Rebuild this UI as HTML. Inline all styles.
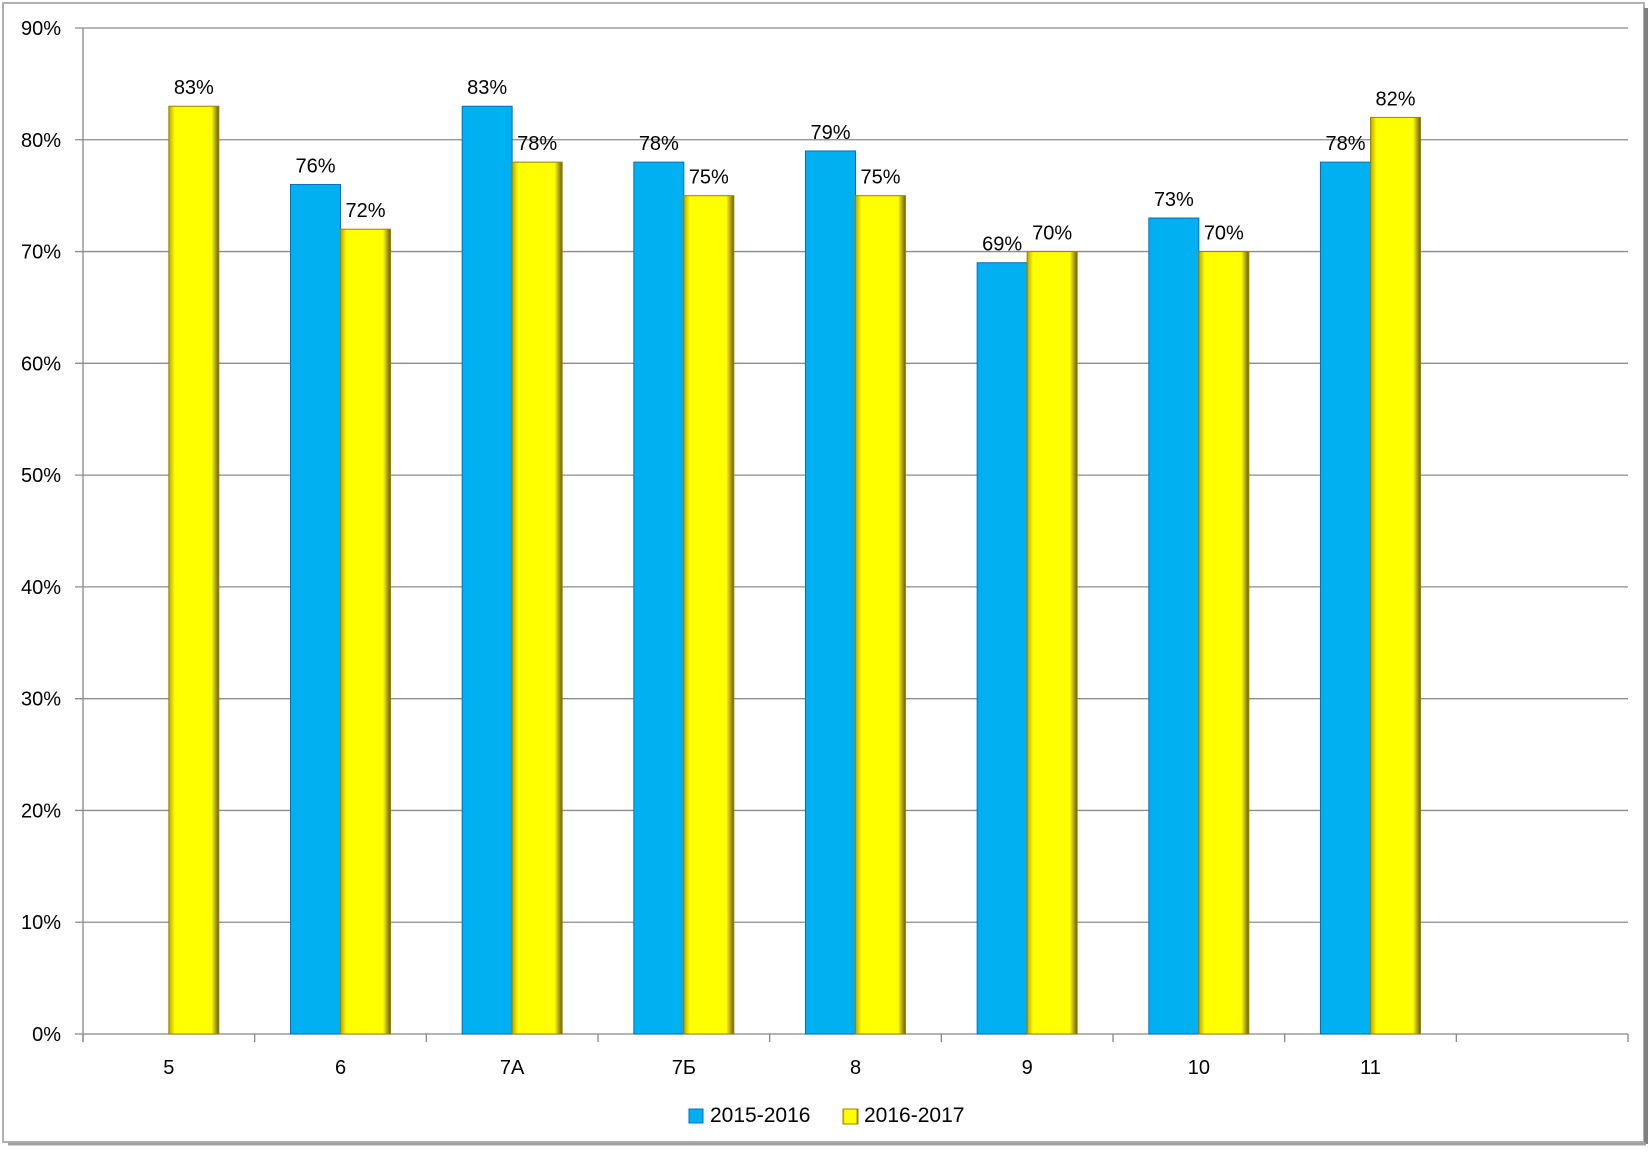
<!DOCTYPE html>
<html><head><meta charset="utf-8">
<style>
body{margin:0;width:1652px;height:1151px;background:#fff;overflow:hidden;font-family:"Liberation Sans",sans-serif;}
</style></head>
<body>
<svg id="chart" width="1652" height="1151" xmlns="http://www.w3.org/2000/svg" font-family="Liberation Sans, sans-serif">
<defs>
<linearGradient id="yh" x1="0" x2="1" y1="0" y2="0">
<stop offset="0" stop-color="#b8a800"/><stop offset="0.12" stop-color="#ffff00"/><stop offset="0.85" stop-color="#ffff00"/><stop offset="1" stop-color="#6b5a00"/>
</linearGradient>
</defs>
<rect x="3" y="3" width="1641" height="1139" fill="#fff" stroke="#b0b0b0" stroke-width="2"/>
<line x1="1646" y1="8" x2="1646" y2="1144" stroke="#808080" stroke-width="4"/>
<line x1="8" y1="1144" x2="1646" y2="1144" stroke="#a0a0a0" stroke-width="3"/>
<g id="grid"></g><g id="bars"></g><g id="labels"></g>
<g>
<rect x="689" y="1109" width="14" height="14" fill="#00b0f0" stroke="#0070c0"/>
<text x="710" y="1122" font-size="21">2015-2016</text>
<rect x="843" y="1109" width="15" height="15" fill="url(#yh)" stroke="#a08000"/>
<text x="864" y="1122" font-size="21">2016-2017</text>
</g>
</svg>
<script>
const categories=["5","6","7А","7Б","8","9","10","11",""];
const series2015=[null,76,83,78,79,69,73,78,null];
const series2016=[83,72,78,75,75,70,70,82,null];
const yTicks=[0,10,20,30,40,50,60,70,80,90];
const NS="http://www.w3.org/2000/svg";
const X0=83,X1=1628,Y0=1034,Y1=28,YMAX=90;
const cw=(X1-X0)/categories.length,bw=50;
const y=v=>Y0-(v/YMAX)*(Y0-Y1);
const xc=i=>X0+cw*(i+0.5);
function mk(tag,attrs,parent){const e=document.createElementNS(NS,tag);for(const k in attrs)e.setAttribute(k,attrs[k]);parent.appendChild(e);return e;}
const grid=document.getElementById('grid'),bars=document.getElementById('bars'),labels=document.getElementById('labels');
yTicks.forEach(t=>{
  const l=mk('line',{x1:X0-8,x2:t===0?X1:X1,y1:y(t),y2:y(t),stroke:t===0?'#888':'#8c8c8c','stroke-width':1.3},grid);
  
  
  const tx=mk('text',{x:61,y:y(t)+7,'text-anchor':'end','font-size':20},grid);
  tx.textContent=t+'%';
  
  
});
const ax=mk('line',{x1:X0,x2:X0,y1:Y1,y2:Y0+8,stroke:'#888','stroke-width':1.3},grid);


for(let i=0;i<=categories.length;i++){
  const t=mk('line',{x1:X0+cw*i,x2:X0+cw*i,y1:Y0,y2:Y0+8,stroke:'#888','stroke-width':1.3},grid);
  
  
}
categories.forEach((c,i)=>{
  const tx=mk('text',{x:xc(i),y:Y0+40,'text-anchor':'middle','font-size':20},labels);
  tx.textContent=c;
  
  
  const a=series2015[i],b=series2016[i];
  if(a!=null){
    const r=mk('rect',{x:xc(i)-bw,y:y(a),width:bw,height:Y0-y(a),fill:'#00b0f0',stroke:'#0070c0','stroke-width':1},bars);
    
    
    const lt=mk('text',{x:xc(i)-bw/2,y:y(a)-12,'text-anchor':'middle','font-size':20},labels);
    lt.textContent=a+'%';
    
    
  }
  if(b!=null){
    const r=mk('rect',{x:xc(i),y:y(b),width:bw,height:Y0-y(b),fill:'url(#yh)',stroke:'#a08000','stroke-width':1},bars);
    
    
    const lt=mk('text',{x:xc(i)+bw/2,y:y(b)-12,'text-anchor':'middle','font-size':20},labels);
    lt.textContent=b+'%';
    
    
  }
});
</script>
</body></html>
